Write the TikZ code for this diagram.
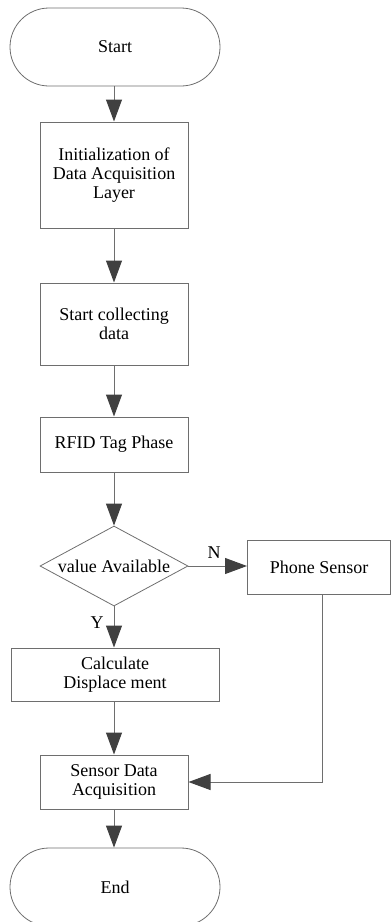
\documentclass[tikz,border=0pt]{standalone}
\usepackage{fontspec}
\setmainfont{Liberation Serif}
\usetikzlibrary{shapes.geometric,arrows.meta,calc}
\definecolor{edgegray}{HTML}{6E6E6E}
\definecolor{headgray}{HTML}{404040}
\tikzset{
  every node/.style={font=\fontsize{18}{19}\selectfont, text=black},
  boxstyle/.style={draw=edgegray, line width=1pt, rectangle, inner sep=0pt, align=center},
  termstyle/.style={draw=edgegray, line width=0.8pt, rectangle, rounded corners=39pt, minimum width=210pt, minimum height=78pt, inner sep=0pt},
  decstyle/.style={draw=edgegray, line width=0.8pt, diamond, aspect=1.85, minimum width=148pt, minimum height=80pt, inner sep=0pt},
  flow/.style={draw=edgegray, line width=1pt, -{Triangle[length=22pt,width=16pt,fill=headgray,color=headgray]}},
}
\begin{document}
\begin{tikzpicture}[x=1pt,y=1pt]
\useasboundingbox (0,0) rectangle (391,-922);
\clip (0,0) rectangle (391,-922);
\node[termstyle] (start) at (115,-47) {Start};
\node[boxstyle, minimum width=148pt, minimum height=106pt] (init) at (114,-175) {Initialization of\\Data Acquisition\\Layer};
\node[boxstyle, minimum width=148pt, minimum height=82pt] (collect) at (114,-324) {Start collecting\\data};
\node[boxstyle, minimum width=148pt, minimum height=55pt] (rfid) at (114,-444.5) {RFID Tag Phase};
\node[decstyle] (dec) at (114,-566) {value Available};
\node[boxstyle, minimum width=143pt, minimum height=54pt] (phone) at (319,-567) {Phone Sensor};
\node[boxstyle, minimum width=208pt, minimum height=53pt] (calc) at (115,-674.5) {Calculate\\Displace ment};
\node[boxstyle, minimum width=148pt, minimum height=54pt] (sensor) at (114,-782) {Sensor Data\\Acquisition};
\node[termstyle] (end) at (115,-887) {End};
\coordinate (phonedrop) at (322,-594);
\draw[flow] (start.south -| init.north) -- (init.north);
\draw[flow] (init) -- (collect);
\draw[flow] (collect) -- (rfid);
\draw[flow] (rfid) -- (dec);
\draw[flow] (dec.east) -- (phone.west |- dec.east);
\draw[flow] (dec.south) -- (calc.north -| dec.south);
\draw[flow] (calc.south -| sensor.north) -- (sensor.north);
\draw[flow] (phonedrop) |- (sensor.east);
\draw[flow] (sensor.south) -- (end.north -| sensor.south);
\node (nlabel) at (214,-553) {N};
\node (ylabel) at (97,-623) {Y};
\end{tikzpicture}
\end{document}
